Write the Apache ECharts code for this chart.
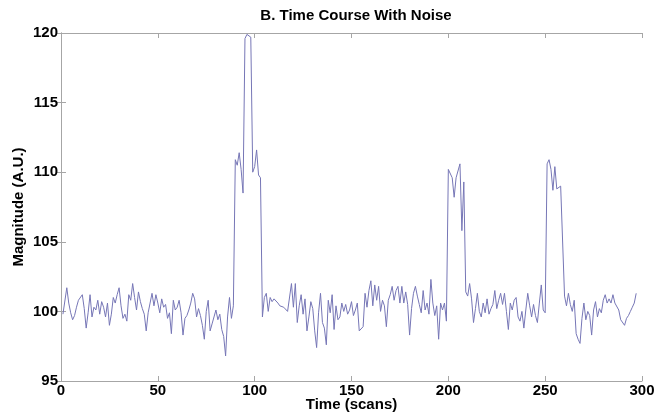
<!DOCTYPE html>
<html>
<head>
  <meta charset="utf-8">
  <title>Time Course With Noise</title>
  <script src="https://cdn.jsdelivr.net/npm/echarts@6/dist/echarts.min.js"></script>
  <style>
    body { margin: 0; padding: 0; background: #fff; }
    #main { width: 655px; height: 416px; }
  </style>
</head>
<body>
  <div id="main"></div>
  <script>
    // scans 1..297
    var magnitude = [
      99.8, 99.9, 101.7, 100.6, 99.9, 99.4, 99.7, 100.3, 100.8, 100.9,
      101.2, 100.2, 98.8, 99.9, 101.2, 99.6, 100.3, 100.1, 100.8, 99.8,
      100.7, 100.3, 99.6, 100.6, 99.0, 99.8, 101.0, 100.6, 101.2, 101.7,
      100.4, 99.5, 99.8, 99.3, 101.2, 100.8, 102.0, 101.0, 100.1, 101.4,
      100.7, 100.2, 99.8, 98.6, 99.9, 100.6, 101.3, 100.4, 101.2, 100.6,
      99.9, 100.9, 100.3, 100.5, 99.5, 99.9, 98.4, 100.8, 100.1, 100.3,
      100.8, 99.9, 98.3, 99.5, 99.7, 100.1, 100.6, 101.3, 100.9, 99.6,
      100.2, 99.7, 99.0, 98.0, 100.0, 100.8, 98.6, 99.1, 99.6, 100.1,
      99.4, 99.8, 98.7, 98.2, 96.8, 99.6, 101.0, 99.5, 100.4, 110.9,
      110.5, 111.4, 110.2, 108.5, 119.6, 119.9, 120.0, 119.7, 110.0, 110.4,
      111.6, 109.8, 109.6, 99.6, 101.0, 101.3, 100.0, 101.0, 100.7, 100.9,
      100.8, 100.6, 100.4, 100.5, 100.3, 100.2, 100.0, 100.1, 102.0, 100.3,
      102.0, 99.2, 100.4, 101.2, 99.8, 100.9, 98.6, 99.6, 100.7, 100.2,
      98.6, 97.4, 99.9, 101.3, 99.2, 98.8, 97.6, 100.8, 99.9, 101.2,
      98.7, 100.4, 99.4, 99.6, 100.6, 100.0, 100.5, 99.8, 100.1, 100.7,
      99.7, 100.1, 100.6, 98.6, 98.5, 98.9, 101.3, 100.3, 101.5, 102.2,
      100.4, 101.9, 100.8, 101.8, 100.0, 100.8, 100.4, 98.9, 100.8, 101.2,
      101.8, 100.8, 101.5, 101.8, 100.6, 101.8, 100.6, 101.4, 100.5, 98.3,
      100.2, 101.3, 101.8, 101.1, 100.5, 99.9, 101.5, 100.1, 100.6, 99.8,
      102.3, 100.6, 99.7, 100.4, 98.0, 100.6, 100.1, 100.6, 99.3, 110.2,
      110.1, 109.6, 108.2, 109.6, 109.7, 110.6, 105.8, 109.3, 101.4, 101.1,
      102.0, 100.9, 99.2, 100.2, 101.3, 100.0, 99.6, 100.6, 99.9, 100.9,
      99.8, 100.2, 100.5, 101.5, 100.2, 100.8, 101.3, 100.5, 101.3, 100.0,
      98.7, 100.6, 100.1, 100.8, 101.0, 99.6, 99.3, 100.0, 98.8, 100.1,
      101.3, 100.4, 99.6, 100.5, 99.7, 99.2, 100.6, 101.9, 100.1, 99.9,
      110.6, 110.9, 110.2, 108.7, 110.4, 108.8, 108.9, 109.0, 109.1, 101.1,
      100.4, 101.3, 100.5, 100.0, 100.8, 98.4, 98.0, 97.7, 99.5, 100.6,
      99.4, 100.0, 99.7, 98.3, 100.1, 100.7, 99.6, 100.2, 99.9, 100.8,
      101.2, 100.6, 100.9, 100.6, 101.2, 100.6, 100.7, 100.1, 99.4, 99.4,
      99.0, 99.5, 99.7, 100.0, 100.3, 100.6, 101.3
    ];
    var scans = magnitude.map(function (v, i) { return i + 1; });
    var points = scans.map(function (s, i) { return [s, magnitude[i]]; });

    var boxColor = '#a6a6a6';
    var fontName = 'Liberation Sans, Arial';
    var labelFont = { color: '#000', fontFamily: fontName, fontWeight: 'bold', fontSize: 15 };
    var nameFont = { color: '#000', fontFamily: fontName, fontWeight: 'bold', fontSize: 15 };

    var chart = echarts.init(document.getElementById('main'));
    chart.setOption({
      animation: false,
      title: {
        text: 'B. Time Course With Noise',
        left: 351,
        textAlign: 'center',
        top: 3,
        textStyle: { fontFamily: fontName, fontWeight: 'bold', fontSize: 15, color: '#000' }
      },
      grid: { left: 61, right: 13, top: 33, bottom: 35, containLabel: false, outerBoundsMode: 'none' },
      xAxis: [{
        type: 'value', min: 0, max: 300, interval: 50,
        name: 'Time (scans)', nameLocation: 'middle', nameGap: 16, nameMoveOverlap: false,
        nameTextStyle: nameFont,
        axisLine: { lineStyle: { color: boxColor } },
        axisTick: { inside: true, length: 5, lineStyle: { color: boxColor } },
        axisLabel: Object.assign({ margin: 2 }, labelFont),
        splitLine: { show: false }
      }, {
        type: 'value', min: 0, max: 300, interval: 50, position: 'top',
        axisLine: { lineStyle: { color: boxColor } },
        axisTick: { inside: true, length: 5, lineStyle: { color: boxColor } },
        axisLabel: { show: false },
        splitLine: { show: false }
      }],
      yAxis: [{
        type: 'value', min: 95, max: 120, interval: 5,
        name: 'Magnitude (A.U.)', nameLocation: 'middle', nameGap: 35, nameMoveOverlap: false,
        nameTextStyle: nameFont,
        axisLine: { show: true, lineStyle: { color: boxColor } },
        axisTick: { show: true, inside: true, length: 5, lineStyle: { color: boxColor } },
        axisLabel: Object.assign({ margin: 3 }, labelFont),
        splitLine: { show: false }
      }, {
        type: 'value', min: 95, max: 120, interval: 5, position: 'right',
        axisLine: { show: true, lineStyle: { color: boxColor } },
        axisTick: { show: true, inside: true, length: 5, lineStyle: { color: boxColor } },
        axisLabel: { show: false },
        splitLine: { show: false }
      }],
      series: [{
        type: 'line',
        data: points,
        showSymbol: false,
        clip: true,
        lineStyle: { color: '#7676b6', width: 1 }
      }]
    });
  </script>
</body>
</html>
